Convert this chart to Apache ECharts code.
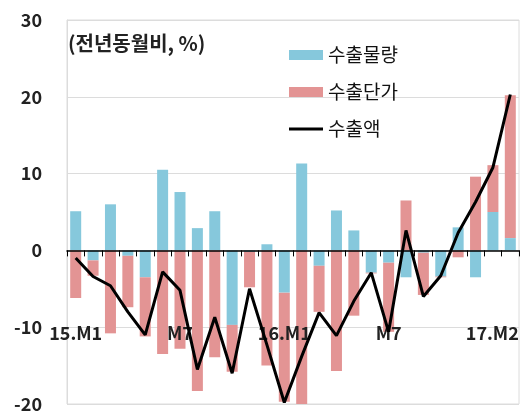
<!DOCTYPE html>
<html>
<head>
<meta charset="utf-8">
<script src="https://cdn.jsdelivr.net/npm/echarts@6/dist/echarts.min.js"></script>
<style>
  html, body { margin: 0; padding: 0; background: #fff; }
  #chart { width: 522px; height: 414px; }
</style>
</head>
<body>
<div id="chart"></div>
<script>
// 월별 카테고리 (15.M1 ~ 17.M2)
const months = [
  '15.M1', 'M2', 'M3', 'M4', 'M5', 'M6', 'M7', 'M8', 'M9', 'M10', 'M11', 'M12',
  '16.M1', 'M2', 'M3', 'M4', 'M5', 'M6', 'M7', 'M8', 'M9', 'M10', 'M11', 'M12',
  '17.M1', '17.M2'
]
// 표시할 눈금 라벨 위치
const labelIndex = [0, 6, 12, 18, 25]
// 수출물량
const volume = [
  5.1, -1.3, 6.0, -0.7, -3.5, 10.5, 7.6, 2.9, 5.1, -9.7, -0.2, 0.8,
  -5.5, 11.3, -2.0, 5.2, 2.6, -2.9, -1.6, -3.5, -0.3, -3.4, 3.0, -3.5,
  5.0, 1.6
]
// 수출단가
const price = [
  -6.2, -2.0, -10.8, -6.7, -7.7, -13.5, -12.8, -18.3, -13.9, -6.1, -4.6, -15.0,
  -14.2, -20.2, -6.0, -15.7, -8.5, -0.1, -9.0, 6.5, -5.5, -0.1, -0.9, 9.6,
  6.1, 18.6
]
// 수출액
const exportValue = [
  -1.0, -3.4, -4.6, -8.0, -11.0, -2.8, -5.2, -15.5, -8.7, -16.0, -5.0, -12.3,
  -19.8, -13.8, -8.1, -11.1, -6.6, -2.9, -10.6, 2.6, -6.0, -3.3, 2.3, 6.3,
  10.8, 20.3
]
// 눈금
const yMin = -20
const yMax = 30
const yStep = 10

const font = '"Noto Sans CJK KR", "Noto Sans", sans-serif'
const lastIdx = months.length - 1

const chart = echarts.init(document.getElementById('chart'))
chart.setOption({
  animation: false,
  textStyle: { fontFamily: font },
  title: {
    text: '(전년동월비, %)',
    left: 63,
    top: 28,
    textStyle: { fontSize: 20, fontWeight: 'bold', color: '#222', fontFamily: font }
  },
  legend: {
    orient: 'vertical',
    left: 284,
    top: 40,
    itemWidth: 34,
    itemHeight: 10,
    itemGap: 17,
    textStyle: { fontSize: 19, color: '#111', fontFamily: font, lineHeight: 20 },
    data: [
      { name: '수출물량', icon: 'rect' },
      { name: '수출단가', icon: 'rect' },
      { name: '수출액', icon: 'path://M0,0 L34,0 L34,3 L0,3 Z' }
    ]
  },
  grid: {
    left: 67,
    right: 3,
    top: 20,
    bottom: 10,
    outerBoundsMode: 'none',
    show: true,
    borderColor: '#dcdcdc',
    borderWidth: 1
  },
  xAxis: {
    type: 'category',
    data: months,
    z: 3,
    axisLine: { onZero: true, lineStyle: { color: '#000', width: 1.5 } },
    axisTick: { show: true, interval: 0, length: 6, lineStyle: { color: '#000' } },
    axisLabel: {
      inside: true,
      interval: (i) => labelIndex.includes(i),
      formatter: (v, i) => (i === lastIdx ? '{last|' + v + '}' : v),
      margin: 62,
      fontSize: 18,
      fontWeight: 'bold',
      color: '#222',
      fontFamily: font,
      rich: {
        last: { fontSize: 18, fontWeight: 'bold', color: '#222', fontFamily: font, padding: [0, 36, 0, 0] }
      }
    },
    splitLine: { show: false }
  },
  yAxis: {
    type: 'value',
    min: yMin,
    max: yMax,
    interval: yStep,
    axisLine: { show: true, lineStyle: { color: '#dcdcdc' } },
    axisTick: { show: false },
    axisLabel: {
      margin: 25,
      fontSize: 18,
      fontWeight: 'bold',
      color: '#222',
      fontFamily: font
    },
    splitLine: { lineStyle: { color: '#dcdcdc' } }
  },
  series: [
    {
      name: '수출물량',
      type: 'bar',
      stack: 'exp',
      barWidth: 11,
      itemStyle: { color: '#86c8dc' },
      data: volume
    },
    {
      name: '수출단가',
      type: 'bar',
      stack: 'exp',
      barWidth: 11,
      itemStyle: { color: '#e39494' },
      data: price
    },
    {
      name: '수출액',
      type: 'line',
      symbol: 'none',
      z: 5,
      lineStyle: { color: '#000', width: 3 },
      itemStyle: { color: '#000' },
      data: exportValue
    }
  ]
})
</script>
</body>
</html>
